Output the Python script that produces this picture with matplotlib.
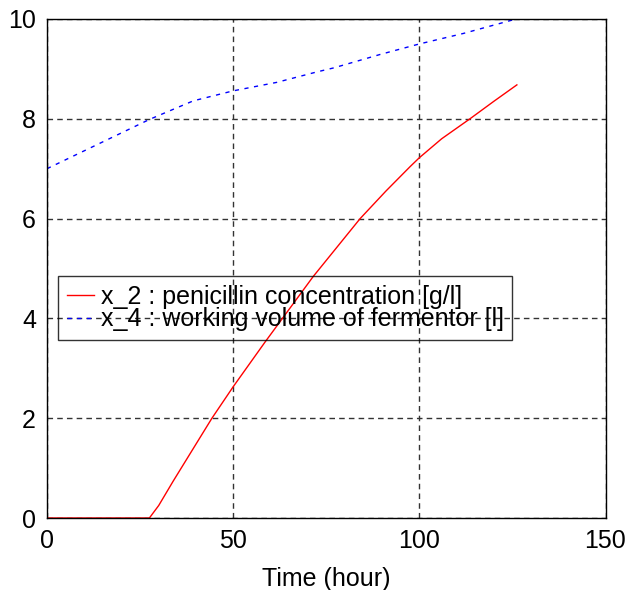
import numpy as np
import matplotlib.pyplot as plt

plt.rcParams['font.family'] = ['Liberation Sans', 'DejaVu Sans']

# penicillin concentration x_2 [g/l]
t_pen = [0, 27.5, 30, 33.9, 44.3, 50, 58.6, 71.5, 84.1, 91, 97.5, 100, 106, 113.6, 120, 126.2]
x2 = [0, 0, 0.25, 0.74, 2.0, 2.63, 3.53, 4.84, 6.0, 6.55, 7.04, 7.22, 7.6, 8.0, 8.35, 8.68]

# working volume x_4 [l]
t_vol = [0, 27.6, 33.9, 39.3, 50, 61.7, 72.5, 77, 89.5, 100, 111.8, 125.5]
x4 = [7.0, 7.99, 8.19, 8.36, 8.56, 8.73, 8.94, 9.02, 9.29, 9.50, 9.71, 9.99]

xticks = [0, 50, 100, 150]
yticks = [0, 2, 4, 6, 8, 10]

fig = plt.figure(figsize=(6.44, 5.90), dpi=100)
ax = fig.add_axes([47 / 644, 72 / 590, 558.5 / 644, 499 / 590])

ax.plot(t_pen, x2, color='red', lw=1, label='x_2 : penicillin concentration [g/l]')
ax.plot(t_vol, x4, color='blue', lw=1, dashes=(3, 4),
        label='x_4 : working volume of fermentor [l]')

ax.set_xlim(0, 150)
ax.set_ylim(0, 10)
ax.set_xticks(xticks)
ax.set_yticks(yticks)
ax.tick_params(length=0, labelsize=18, pad=8)
ax.set_xlabel('Time (hour)', fontsize=18, labelpad=10)

ax.grid(True, color='#333333', lw=1, dashes=(4, 3))
for s in ax.spines.values():
    s.set_color('black')
    s.set_linewidth(1)

# legend rows overlap a little, as in the original
leg = ax.legend(loc='upper left', bbox_to_anchor=(0.02, 0.485), fontsize=18,
                frameon=True, fancybox=False, facecolor='none', edgecolor='black',
                handlelength=1.1, handletextpad=0.25, labelspacing=-0.05,
                borderpad=0.35, borderaxespad=0)
leg.get_frame().set_linewidth(1)

fig.savefig('out.png', dpi=100)
